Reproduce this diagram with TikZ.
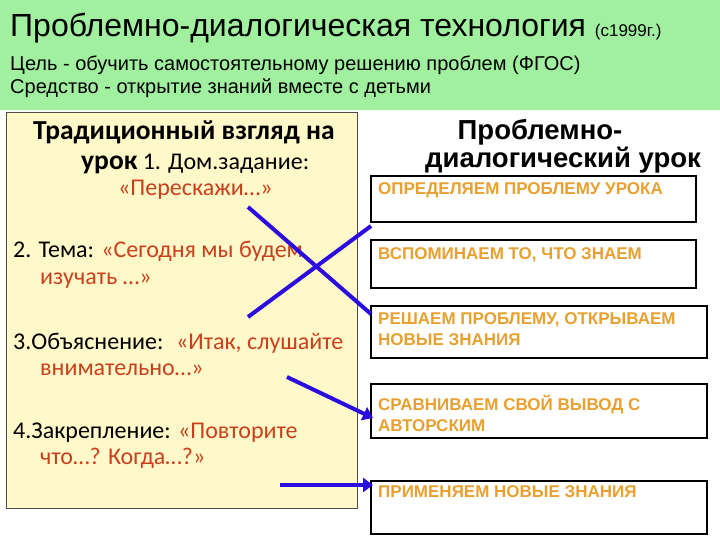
\documentclass[tikz,border=0pt]{standalone}
\usepackage{fontspec}
\setmainfont{Liberation Sans}
\newfontfamily\calfont{Carlito}
\definecolor{hdr}{HTML}{A0F0A0}
\definecolor{pale}{HTML}{FFF8C8}
\definecolor{redt}{HTML}{C8401C}
\definecolor{ora}{HTML}{E8A030}
\definecolor{arr}{HTML}{2A0CE0}
\usetikzlibrary{arrows.meta}
\tikzset{x=1pt,y=-1pt,
 lt/.style={anchor=base west,inner sep=0pt,font=\calfont\fontsize{24}{28}\selectfont},
 rbox/.style={draw=black,line width=2.2pt},
 rt/.style={anchor=base west,inner sep=0pt,font=\bfseries\fontsize{17}{19}\selectfont,text=ora,align=left},
 ln/.style={draw=arr,line width=4pt},
 ar/.style={ln,-{Triangle[length=10pt,width=14pt]}}}
\begin{document}
\begin{tikzpicture}
\useasboundingbox (0,0) rectangle (720,540);
\fill[white] (0,0) rectangle (720,540);
\fill[hdr] (0,0) rectangle (720,110);
\node[anchor=base west,inner sep=0pt,font=\fontsize{32}{36}\selectfont] (t) at (10,37) {Проблемно-диалогическая технология {\fontsize{17}{19}\selectfont (с1999г.)}};
\node[anchor=base west,inner sep=0pt,font=\fontsize{20}{23}\selectfont] (t2) at (10,71) {Цель - обучить самостоятельному решению проблем (ФГОС)};
\node[anchor=base west,inner sep=0pt,font=\fontsize{20}{23}\selectfont] (t3) at (10,94) {Средство - открытие знаний вместе с детьми};
\draw[fill=pale,draw=black!70] (6,112) rectangle (357,508);
\node[lt,font=\calfont\bfseries\fontsize{27.5}{30}\selectfont] (l1) at (33,140) {Традиционный взгляд на};
\node[lt] (l2) at (81,170) {{\bfseries\fontsize{27.5}{30}\selectfont урок} 1. Дом.задание:};
\node[lt,text=redt] (l3) at (118,196) {«Перескажи…»};
\node[lt] (l4) at (13,257) {2. Тема: \textcolor{redt}{«Сегодня мы будем}};
\node[lt,text=redt] (l5) at (40,284) {изучать …»};
\node[lt] (l6) at (13,349) {3.Объяснение: \ \textcolor{redt}{«Итак, слушайте}};
\node[lt,text=redt] (l7) at (40,375) {внимательно…»};
\node[lt] (l8) at (13,438) {4.Закрепление: \textcolor{redt}{«Повторите}};
\node[lt,text=redt] (l9) at (40,464) {что…? Когда…?»};
\node[anchor=base,inner sep=0pt,font=\bfseries\fontsize{27.5}{30}\selectfont,align=center] (rh) at (540,140) {Проблемно-};
\node[anchor=base,inner sep=0pt,font=\bfseries\fontsize{27.5}{30}\selectfont] (rh2) at (563,168) {диалогический урок};
\draw[rbox] (371,176) rectangle (696,222); \node[rt] (b1) at (378,195) {ОПРЕДЕЛЯЕМ ПРОБЛЕМУ УРОКА};
\draw[rbox] (371,240) rectangle (696,288); \node[rt] (b2) at (378,259) {ВСПОМИНАЕМ ТО, ЧТО ЗНАЕМ};
\draw[rbox] (371,306) rectangle (707,358); \node[rt] (b3) at (378,324) {РЕШАЕМ ПРОБЛЕМУ, ОТКРЫВАЕМ};
\node[rt] (b3b) at (378,345) {НОВЫЕ ЗНАНИЯ};
\draw[rbox] (371,384) rectangle (707,438); \node[rt] (b4) at (378,410) {СРАВНИВАЕМ СВОЙ ВЫВОД С};
\node[rt] (b4b) at (378,431) {АВТОРСКИМ};
\draw[rbox] (371,481) rectangle (707,534); \node[rt] (b5) at (378,497) {ПРИМЕНЯЕМ НОВЫЕ ЗНАНИЯ};
\coordinate (a1) at (248,207); \coordinate (a2) at (371,314);
\coordinate (c1) at (248,317); \coordinate (c2) at (371,226);
\draw[ln] (a1) -- (a2);
\draw[ln] (c1) -- (c2);
\coordinate (d1) at (287,377); \coordinate (d2) at (373,418);
\draw[ar] (d1) -- (d2);
\coordinate (e1) at (280,485); \coordinate (e2) at (373,485);
\draw[ar] (e1) -- (e2);
\end{tikzpicture}
\end{document}
